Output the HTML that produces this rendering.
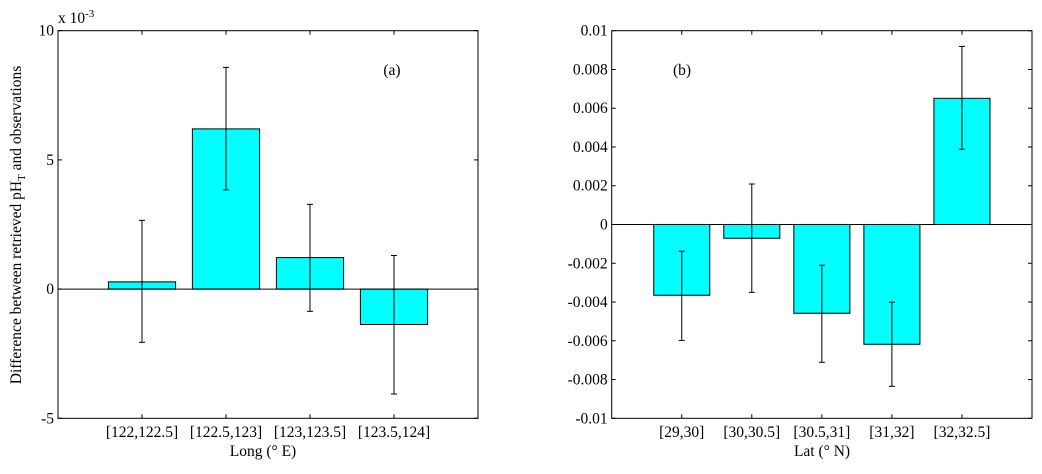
<!DOCTYPE html>
<html><head><meta charset="utf-8"><style>
body{margin:0;background:#fff;}
svg text{font-family:"Liberation Serif",serif;font-size:15.5px;fill:#000;}
</style></head><body>
<svg id="c" width="1042" height="469" xmlns="http://www.w3.org/2000/svg"></svg>
<script>
const catsA=["[122,122.5]","[122.5,123]","[123,123.5]","[123.5,124]"];
const valsA=[0.28,6.2,1.22,-1.37];
const errHiA=[2.66,8.58,3.28,1.3];
const errLoA=[-2.06,3.84,-0.86,-4.06];
const ticksA=[-5,0,5,10];
const catsB=["[29,30]","[30,30.5]","[30.5,31]","[31,32]","[32,32.5]"];
const valsB=[-0.00365,-0.00071,-0.00458,-0.00618,0.00651];
const errHiB=[-0.00138,0.00209,-0.0021,-0.00401,0.00919];
const errLoB=[-0.00598,-0.0035,-0.00711,-0.00835,0.00388];
const ticksB=[-0.01,-0.008,-0.006,-0.004,-0.002,0,0.002,0.004,0.006,0.008,0.01];
const tickLabelsB=["-0.01","-0.008","-0.006","-0.004","-0.002","0","0.002","0.004","0.006","0.008","0.01"];
const NS="http://www.w3.org/2000/svg";
const svg=document.getElementById('c');
function mk(t,a,p){const e=document.createElementNS(NS,t);for(const k in a)e.setAttribute(k,a[k]);(p||svg).appendChild(e);return e;}
function panel(o){
  const g=mk('g',{});
  
  
  const n=o.cats.length;
  const X=i=>o.x0+(o.x1-o.x0)*(i+1)/(n+1);
  const Y=v=>o.y1-(v-o.ymin)/(o.ymax-o.ymin)*(o.y1-o.y0);
  const bw=(o.x1-o.x0)/(n+1)*0.8;
  o.vals.forEach((v,i)=>{
    const r=mk('rect',{x:X(i)-bw/2,y:Math.min(Y(v),Y(0)),width:bw,height:Math.abs(Y(v)-Y(0)),fill:'#00ffff',stroke:'#000','stroke-width':1},g);
    
    
  });
  mk('line',{x1:o.x0,x2:o.x1,y1:Y(0),y2:Y(0),stroke:'#000'},g);
  o.vals.forEach((v,i)=>{
    const e=mk('g',{stroke:'#000','stroke-width':1},g);
    
    
    const x=X(i);
    mk('line',{x1:x,x2:x,y1:Y(o.hi[i]),y2:Y(o.lo[i])},e);
    mk('line',{x1:x-3,x2:x+3,y1:Y(o.hi[i]),y2:Y(o.hi[i])},e);
    mk('line',{x1:x-3,x2:x+3,y1:Y(o.lo[i]),y2:Y(o.lo[i])},e);
  });
  mk('rect',{x:o.x0,y:o.y0,width:o.x1-o.x0,height:o.y1-o.y0,fill:'none',stroke:'#000'},g);
  o.ticks.forEach((t,i)=>{
    const y=Y(t);
    mk('line',{x1:o.x0,x2:o.x0+4,y1:y,y2:y,stroke:'#000'},g);
    mk('line',{x1:o.x1-4,x2:o.x1,y1:y,y2:y,stroke:'#000'},g);
    const tx=mk('text',{x:o.x0-4,y:y+5,'text-anchor':'end'},g);
    tx.textContent=o.tickLabels[i];
    
    
  });
  o.cats.forEach((c,i)=>{
    const x=X(i);
    mk('line',{x1:x,x2:x,y1:o.y0,y2:o.y0+4,stroke:'#000'},g);
    mk('line',{x1:x,x2:x,y1:o.y1-4,y2:o.y1,stroke:'#000'},g);
    const tx=mk('text',{x:x,y:437,'text-anchor':'middle'},g);
    tx.textContent=c;
    
    
  });
  const xl=mk('text',{x:o.xlx,y:456,'text-anchor':'middle'},g);
  xl.textContent=o.xlabel;
  
  
  const pl=mk('text',{x:o.plx,y:75,'text-anchor':'middle'},g);
  pl.textContent=o.pl;
  
  
}
panel({name:'panel-a',cats:catsA,vals:valsA,hi:errHiA,lo:errLoA,ticks:ticksA,tickLabels:ticksA.map(String),x0:58,x1:478,y0:30.7,y1:418.3,ymin:-5,ymax:10,xlabel:'Long (° E)',xlx:263,pl:'(a)',plx:392});
panel({name:'panel-b',cats:catsB,vals:valsB,hi:errHiB,lo:errLoB,ticks:ticksB,tickLabels:tickLabelsB,x0:611.7,x1:1032,y0:30.7,y1:418.3,ymin:-0.01,ymax:0.01,xlabel:'Lat (° N)',xlx:822,pl:'(b)',plx:682});
const ex=mk('text',{x:58,y:23});
ex.innerHTML='x 10<tspan dy="-6" font-size="11">-3</tspan>';


const yl=mk('text',{x:0,y:0,transform:'translate(21,225) rotate(-90)','text-anchor':'middle'});
yl.innerHTML='Difference between retrieved pH<tspan dy="4" font-size="11">T</tspan><tspan dy="-4"> and observations</tspan>';


</script>
</body></html>
